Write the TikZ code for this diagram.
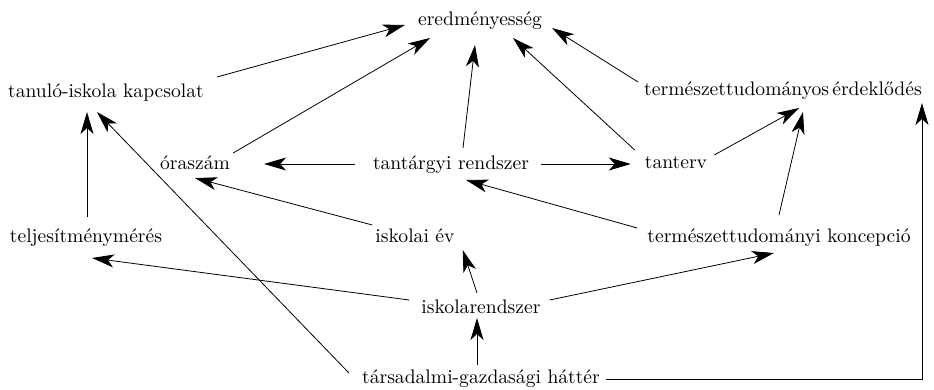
\documentclass[tikz,border=0pt]{standalone}
\usepackage{fontspec}
\setmainfont{lmroman10-regular.otf}
\usepackage{tikz}
\usetikzlibrary{arrows.meta}

\begin{document}
\begin{tikzpicture}[
    x=1pt, y=-1pt,
    factor/.style={inner sep=0pt, anchor=base, font=\fontsize{19.6}{24}\selectfont},
    arrow/.style={line width=0.8pt, -{Stealth[length=22pt, width=13pt, inset=6pt]}}
]
    \useasboundingbox (0,0) rectangle (934,389);

    % Row 1
    \node [factor] (ered) at (480,25) {eredményesség};

    % Row 2
    \node [factor] (tanulo) at (106,97) {tanuló-iskola kapcsolat};
    \node [factor] (erdeklodes) at (783,95) {természettudományos\,érdeklődés};

    % Row 3
    \node [factor] (oraszam) at (195,169) {óraszám};
    \node [factor] (rendszer) at (451,169) {tantárgyi rendszer};
    \node [factor] (tanterv) at (676,168) {tanterv};

    % Row 4
    \node [factor] (teljesitmeny) at (86,242) {teljesítménymérés};
    \node [factor] (iskolaiev) at (415,242) {iskolai év};
    \node [factor] (koncepcio) at (779,242) {természettudományi koncepció};

    % Row 5
    \node [factor] (iskolarendszer) at (481,313) {iskolarendszer};
    \node [factor] (hatter) at (481,383) {társadalmi-gazdasági háttér};

    % into eredmenyesseg
    \draw [arrow] ([shift={(13,-20)}]tanulo.base east) -- ([shift={(-13,0)}]ered.base west);
    \draw [arrow] ([shift={(3,-16)}]oraszam.base east) -- ([shift={(-50,13)}]ered.base);
    \draw [arrow] ([shift={(12,-21)}]rendszer.base) -- ([shift={(-5,20)}]ered.base);
    \draw [arrow] ([shift={(-10,-18)}]tanterv.base west) -- ([shift={(33,13)}]ered.base);
    \draw [arrow] ([shift={(-6,-13)}]erdeklodes.base west) -- ([shift={(10,3)}]ered.base east);

    % tantargyi rendszer
    \draw [arrow] ([shift={(-18,-5)}]rendszer.base west) -- ([shift={(34,-5)}]oraszam.base east);
    \draw [arrow] ([shift={(12,-5)}]rendszer.base east) -- ([shift={(-14,-4)}]tanterv.base west);

    % into termeszettudomanyos erdeklodes
    \draw [arrow] ([shift={(7,-13)}]tanterv.base east) -- ([shift={(16,13)}]erdeklodes.base);
    \draw [arrow] ([shift={(0,-27)}]koncepcio.base) -- ([shift={(20,17)}]erdeklodes.base);
    \draw [arrow] ([shift={(6,-4)}]hatter.base east) -| ([shift={(0,8)}]erdeklodes.base east);

    % into tanulo-iskola kapcsolat
    \draw [arrow] ([shift={(1,-25)}]teljesitmeny.base) -- ([shift={(-19,15)}]tanulo.base);
    \draw [arrow] ([shift={(-13,-10)}]hatter.base west) -- ([shift={(-9,15)}]tanulo.base);

    % lower rows
    \draw [arrow] ([shift={(-3,-17)}]iskolaiev.base west) -- ([shift={(0,9)}]oraszam.base);
    \draw [arrow] ([shift={(-10,-14)}]koncepcio.base west) -- ([shift={(15,11)}]rendszer.base);
    \draw [arrow] ([shift={(-12,-13)}]iskolarendszer.base west) -- ([shift={(6,16)}]teljesitmeny.base);
    \draw [arrow] ([shift={(-4,-20)}]iskolarendszer.base) -- ([shift={(8,8)}]iskolaiev.base east);
    \draw [arrow] ([shift={(9,-13)}]iskolarendszer.base east) -- ([shift={(-5,11)}]koncepcio.base);
    \draw [arrow] ([shift={(-4,-18)}]hatter.base) -- ([shift={(-4,5)}]iskolarendszer.base);
\end{tikzpicture}
\end{document}
